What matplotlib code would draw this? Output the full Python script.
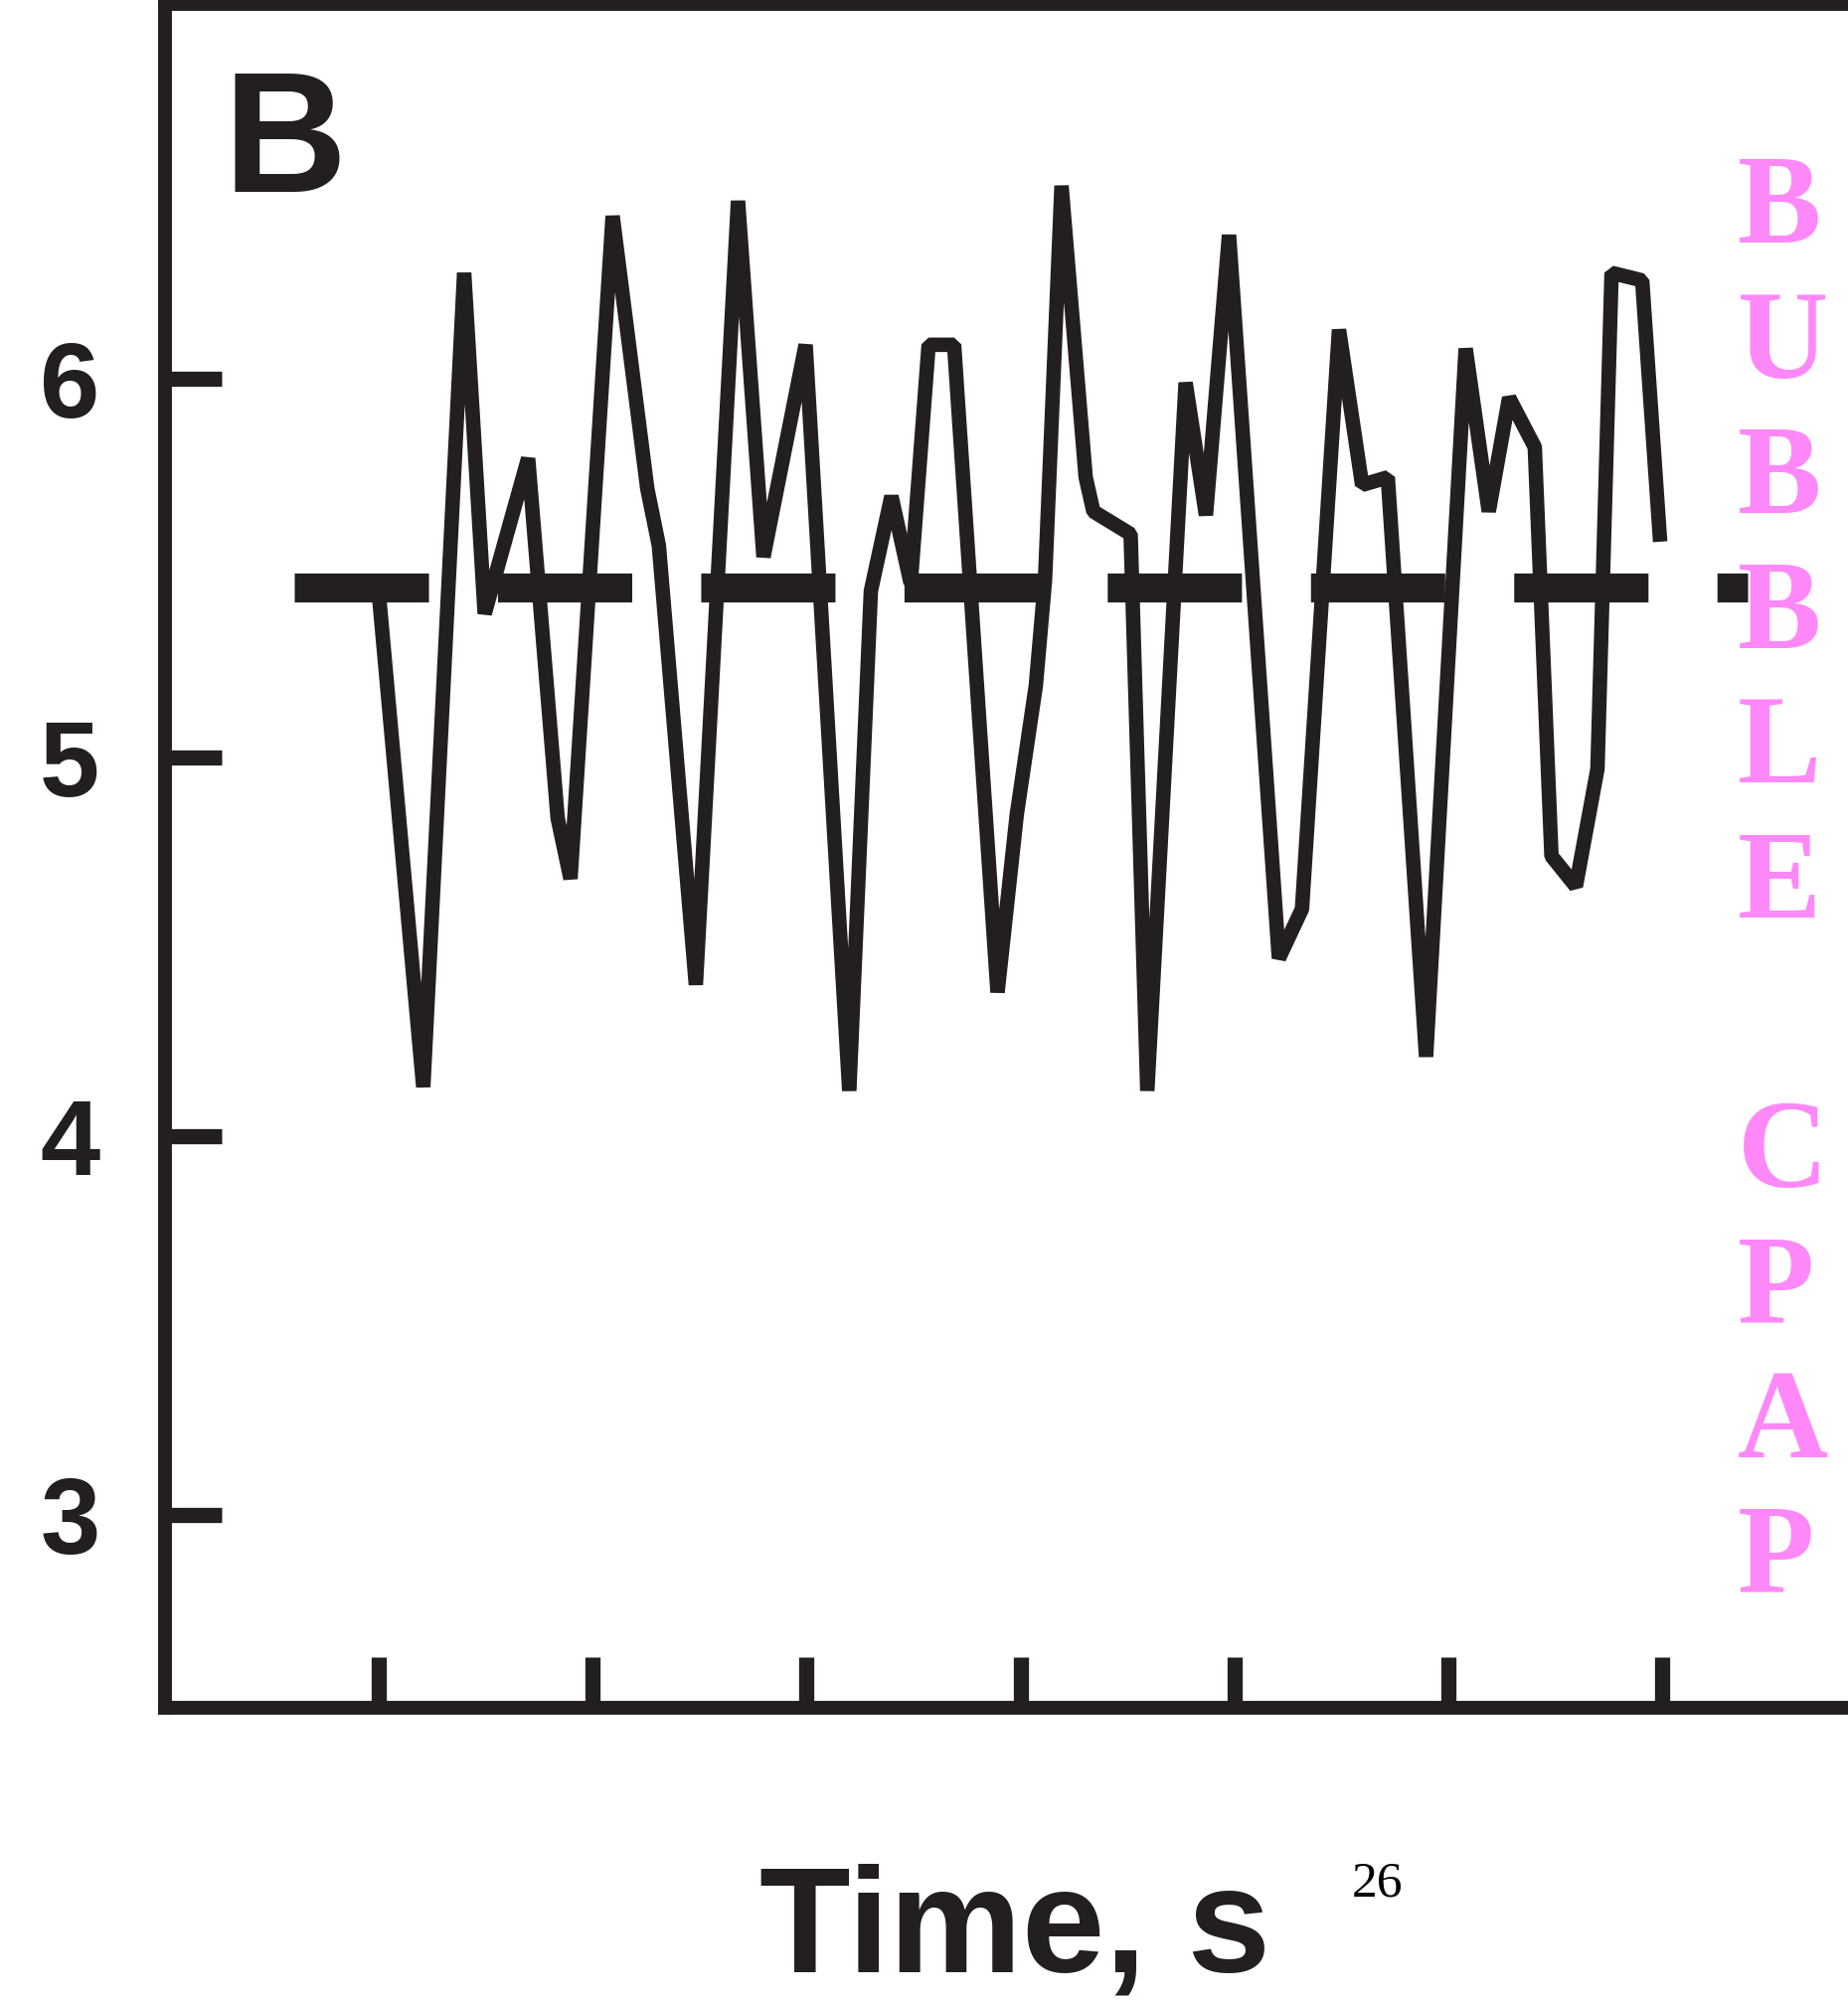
import matplotlib
matplotlib.use("Agg")
import matplotlib.pyplot as plt

ink = '#231f20'
pink = '#ff88f8'

# ==========================
# Data
# ==========================
time_s = [1.000, 1.209, 1.400, 1.496, 1.699, 1.837, 1.897, 2.094, 2.256, 2.310,
          2.483, 2.680, 2.799, 2.996, 3.200, 3.301, 3.397, 3.487, 3.571, 3.690,
          3.893, 3.983, 4.072, 4.115, 4.192, 4.305, 4.341, 4.515, 4.593, 4.772,
          4.867, 4.975, 5.208, 5.316, 5.489, 5.597, 5.717, 5.896, 6.081, 6.189,
          6.284, 6.404, 6.482, 6.596, 6.697, 6.763, 6.906, 6.990]
signal = [5.44, 4.13, 6.28, 5.38, 5.79, 4.84, 4.68, 6.43, 5.71, 5.56,
          4.40, 6.47, 5.53, 6.09, 4.12, 5.44, 5.69, 5.46, 6.09, 6.09,
          4.38, 4.85, 5.19, 5.47, 6.51, 5.74, 5.65, 5.59, 4.12, 5.99,
          5.64, 6.38, 4.47, 4.60, 6.13, 5.72, 5.74, 4.21, 6.08, 5.65,
          5.95, 5.82, 4.74, 4.66, 4.97, 6.28, 6.26, 5.57]

mean_level = 5.45
mean_span = [0.605, 7.40]

xticks = [1, 2, 3, 4, 5, 6, 7]
yticks = [3, 4, 5, 6]
ytick_labels = ['3', '4', '5', '6']

side_letters = ['B', 'U', 'B', 'B', 'L', 'E', '', 'C', 'P', 'A', 'P']

# ==========================
# Figure
# ==========================
W, H = 1859, 2017
fig = plt.figure(figsize=(W / 100, H / 100), dpi=100)
plt.rcParams['font.family'] = ['Liberation Sans', 'DejaVu Sans']

ax = fig.add_axes([165.6 / W, 1 - 1717.5 / H, 1 - 165.6 / W, (1717.5 - 4) / H])
ax.set_xlim(0, 7.868)
ax.set_ylim(2.492, 6.99)

ax.plot(time_s, signal, color=ink, lw=10.5, solid_joinstyle='bevel',
        solid_capstyle='butt', zorder=3)
ax.plot(mean_span, [mean_level, mean_level], color=ink, lw=21,
        linestyle=(0, (4.63, 2.38)), dash_capstyle='butt', zorder=2)

for s in ['left', 'bottom', 'top']:
    ax.spines[s].set_linewidth(10)
    ax.spines[s].set_color(ink)
ax.spines['right'].set_visible(False)

ax.set_xticks(xticks)
ax.set_xticklabels([])
ax.set_yticks(yticks)
ax.set_yticklabels(ytick_labels, fontsize=78, fontweight='bold', color=ink)
ax.tick_params(axis='x', direction='in', length=37, width=11, color=ink)
ax.tick_params(axis='y', direction='in', length=41, width=11, color=ink, pad=47)

# panel letter and axis label
fig.text(224 / W, 1 - 193 / H, 'B', fontsize=124, fontweight='bold',
         color=ink, ha='left', va='baseline')
fig.text(1021 / W, 1 - 1983 / H, 'Time, s', fontsize=108, fontweight='bold',
         color=ink, ha='center', va='baseline')
fig.text(1360 / W, 1 - 1907 / H, '26', fontsize=37, family='Liberation Serif',
         color='black', ha='left', va='baseline')

# pink vertical caption
for i, ch in enumerate(side_letters):
    if ch:
        fig.text(1748 / W, 1 - (244.4 + 135.7 * i) / H, ch, fontsize=91,
                 family='Liberation Serif', fontweight='bold', color=pink,
                 ha='left', va='baseline')

fig.savefig('out.png', dpi=100, facecolor='white')
